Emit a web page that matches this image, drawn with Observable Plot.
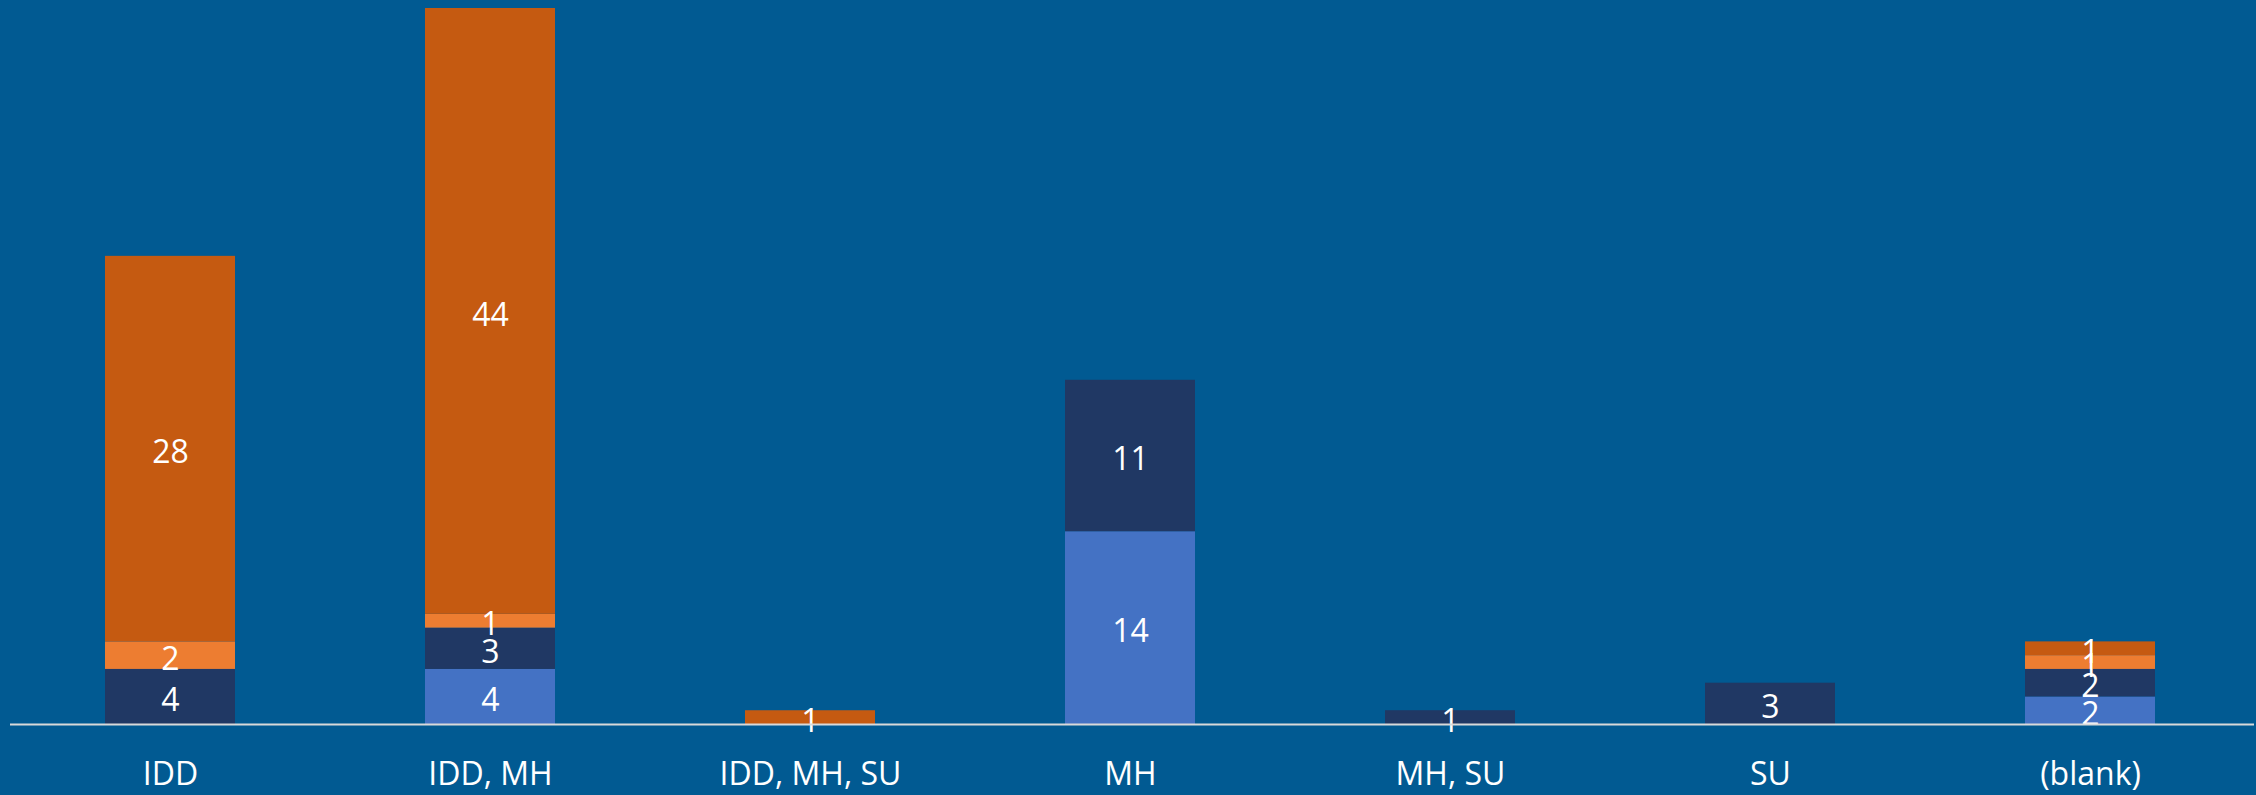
<!DOCTYPE html>
<html><head><meta charset="utf-8">
<script src="https://cdn.jsdelivr.net/npm/d3@7"></script>
<script src="https://cdn.jsdelivr.net/npm/@observablehq/plot@0.6"></script>
<style>html,body{margin:0;padding:0;background:#015a92;overflow:hidden}</style>
</head><body><div id="chart"></div>
<script>
const categories = ["IDD", "IDD, MH", "IDD, MH, SU", "MH", "MH, SU", "SU", "(blank)"];
const seriesNames = ["Series 1", "Series 2", "Series 3", "Series 4"];
const series1 = [0, 4, 0, 14, 0, 0, 2];   // light blue (bottom)
const series2 = [4, 3, 0, 11, 1, 3, 2];   // navy
const series3 = [2, 1, 0, 0, 0, 0, 1];    // light orange
const series4 = [28, 44, 1, 0, 0, 0, 1];  // dark orange (top)
const seriesColors = ["#4472c4", "#203864", "#ed7d31", "#c55a11"];

const allSeries = [series1, series2, series3, series4];
const rows = [];
categories.forEach((c, i) => {
  allSeries.forEach((s, j) => {
    if (s[i] > 0) rows.push({cat: c, series: seriesNames[j], value: s[i]});
  });
});

const chart = Plot.plot({
  width: 2256,
  height: 795,
  marginTop: 8,
  marginBottom: 71,
  marginLeft: 10,
  marginRight: 2,
  style: {background: "#015a92", color: "white", fontFamily: "'Open Sans', sans-serif"},
  x: {domain: categories, range: [10, 2250], paddingInner: 0.594, paddingOuter: 0.297, label: null},
  y: {domain: [0, 52], axis: null},
  color: {domain: seriesNames, range: seriesColors},
  marks: [
    Plot.barY(rows, {x: "cat", y: "value", fill: "series", order: seriesNames}),
    Plot.text(rows, Plot.stackY({x: "cat", y: "value", z: "series", order: seriesNames,
      text: d => String(d.value), fill: "white", fontSize: 32, dy: 4})),
    Plot.ruleY([0], {stroke: "#d9d9d9", strokeWidth: 2}),
    Plot.axisX({tickSize: 0, tickPadding: 38, fontSize: 32, fill: "white", label: null})
  ]
});
document.getElementById("chart").appendChild(chart);
</script>
</body></html>
